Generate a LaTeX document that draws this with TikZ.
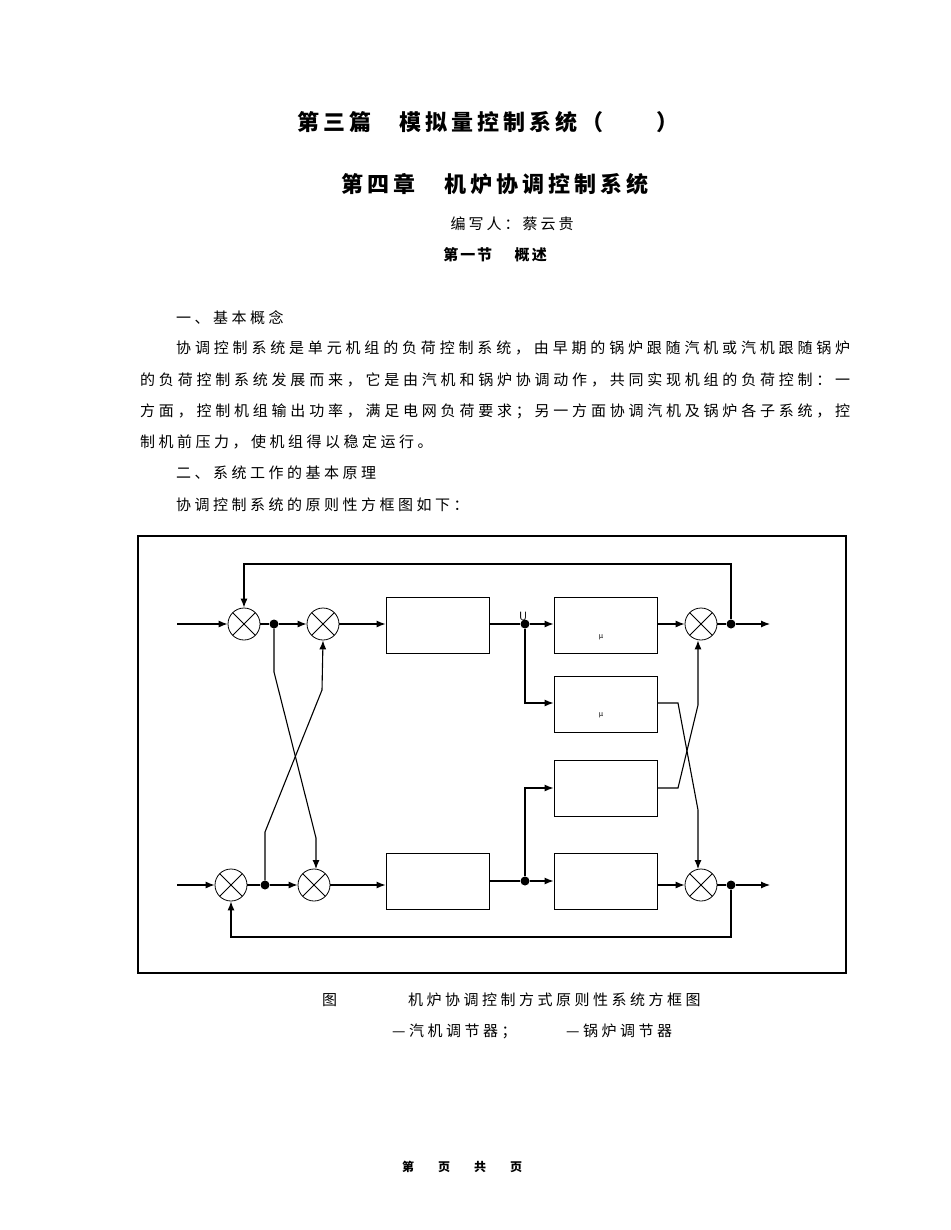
\documentclass[tikz,border=0pt]{standalone}
\usepackage{fontspec}
\setmainfont{Noto Sans CJK SC}
\usetikzlibrary{arrows.meta}
\makeatletter
\def\my@gl{}
\def\my@loop#1{\ifx#1\relax\else#1\my@gl\expandafter\my@loop\fi}
\newcommand{\ls}[2]{\def\my@gl{\hskip #1\relax}\my@loop#2\relax\unskip}
\newcommand{\jl}[2]{\hbox to #1{\def\my@gl{\hskip 0pt plus 1fil\relax}\my@loop#2\relax\unskip}}
\makeatother
\begin{document}
\begin{tikzpicture}[x=1pt,y=-1pt,
  sum/.style={draw,circle,minimum size=32pt,inner sep=0pt,line width=0.8pt,path picture={\draw (path picture bounding box.north west)--(path picture bounding box.south east) (path picture bounding box.north east)--(path picture bounding box.south west);}},
  blk/.style={draw,line width=0.9pt,minimum width=103pt,minimum height=56pt,inner sep=0pt},
  dotn/.style={circle,fill,inner sep=0pt,minimum size=9pt},
  ar/.style={line width=1.1pt,-{Latex[length=9pt,width=7pt]}},
  ln/.style={line width=1.1pt},
  body/.style={anchor=west,font=\fontsize{15pt}{18pt}\selectfont,inner sep=0pt}]
\useasboundingbox (0,0) rectangle (950,1230);
% titles
\node[font=\fontsize{22pt}{26pt}\selectfont\bfseries] (t1) at (488,122) {\ls{4pt}{第三篇}\hspace{1.3em}\ls{4pt}{模拟量控制系统（}\hspace{2.4em}）};
\node[font=\fontsize{22pt}{26pt}\selectfont\bfseries] (t2) at (495,184) {\ls{4pt}{第四章}\hspace{1.3em}\ls{4pt}{机炉协调控制系统}};
\node[font=\fontsize{15pt}{18pt}\selectfont] (t3) at (512,224) {\ls{3pt}{编写人：蔡云贵}};
\node[font=\fontsize{15pt}{18pt}\selectfont\bfseries] (t4) at (495,255) {\ls{2pt}{第一节}\hspace{1.5em}\ls{2pt}{概述}};
\node[body] (p0) at (176,318) {\ls{3.5pt}{一、基本概念}};
\node[body] (p1) at (176,348) {\jl{674pt}{协调控制系统是单元机组的负荷控制系统，由早期的锅炉跟随汽机或汽机跟随锅炉}};
\node[body] (p2) at (140,380) {\jl{710pt}{的负荷控制系统发展而来，它是由汽机和锅炉协调动作，共同实现机组的负荷控制：一}};
\node[body] (p3) at (140,411) {\jl{710pt}{方面，控制机组输出功率，满足电网负荷要求；另一方面协调汽机及锅炉各子系统，控}};
\node[body] (p4) at (140,442) {\ls{3.5pt}{制机前压力，使机组得以稳定运行。}};
\node[body] (p5) at (176,473) {\ls{3.5pt}{二、系统工作的基本原理}};
\node[body] (p6) at (176,505) {\ls{3.5pt}{协调控制系统的原则性方框图如下：}};
% frame
\draw[line width=1.1pt] (138,536) rectangle (846,973);
% top row
\coordinate (in1) at (177,624);
\node[sum] (s1) at (244,624) {};
\node[dotn] (d1) at (274,624) {};
\node[sum] (s2) at (323,624) {};
\node[blk] (b1) at (437.5,625) {};
\node[dotn] (d2) at (525,624) {};
\node[font=\fontsize{12pt}{12pt}\selectfont\sffamily,inner sep=0pt] (u) at (523,616) {U};
\node[blk] (b2) at (605.5,625) {};
\node[font=\fontsize{7pt}{7pt}\selectfont] (mu1) at (601,637) {μ};
\node[sum] (s3) at (701,624) {};
\node[dotn] (d3) at (731,624) {};
\coordinate (out1) at (770,624);
\node[blk] (b3) at (605.5,704) {};
\node[font=\fontsize{7pt}{7pt}\selectfont] (mu2) at (601,715) {μ};
\node[blk] (b4) at (605.5,788) {};
\node[blk] (b5) at (605.5,881) {};
% bottom row
\coordinate (in2) at (177,885);
\node[sum] (s4) at (231,885) {};
\node[dotn] (d4) at (265,885) {};
\node[sum] (s5) at (314,885) {};
\node[blk] (b6) at (437.5,881) {};
\node[dotn] (d5) at (525,881) {};
\node[sum] (s6) at (701,885) {};
\node[dotn] (d6) at (731,885) {};
\coordinate (out2) at (770,885);
% connections top
\draw[ar] (in1) -- (s1);
\draw[ln] (s1) -- (d1);
\draw[ar] (d1) -- (s2);
\draw[ar] (s2) -- (b1.west|-s2);
\draw[ln] (b1.east|-d2) -- (d2);
\draw[ar] (d2) -- (b2.west|-d2);
\draw[ar] (b2.east|-s3) -- (s3);
\draw[ln] (s3) -- (d3);
\draw[ar] (d3) -- (out1);
\draw[ar] (d3) -- (731,564) -- (244,564) -- (s1.north);
\draw[ar] (d2) -- (525,703) -- (b3.west|-0,703);
% bottom
\draw[ar] (in2) -- (s4);
\draw[ln] (s4) -- (d4);
\draw[ar] (d4) -- (s5);
\draw[ar] (s5) -- (b6.west|-s5);
\draw[ln] (b6.east|-d5) -- (d5);
\draw[ar] (d5) -- (b5.west|-d5);
\draw[ar] (b5.east|-s6) -- (s6);
\draw[ln] (s6) -- (d6);
\draw[ar] (d6) -- (out2);
\draw[ar] (d6) -- (731,937) -- (231,937) -- (s4.south);
\draw[ar] (d5) -- (525,788) -- (b4.west);
% crosses
\draw[ar] (d1) -- (274,672) -- (316,838) -- (316,869);
\draw[ar] (d4) -- (265,832) -- (322,690) -- (s2.south);
\draw[ar] (b3.east|-0,703) -- (678,703) -- (698,810) -- (698,869);
\draw[ar] (b4.east) -- (678,788) -- (698,705) -- (s3.south-|698,0);
% caption
\node[body] (c1) at (322,1000) {图};
\node[body] (c2) at (408,1000) {\ls{3.5pt}{机炉协调控制方式原则性系统方框图}};
\node[body] (c3) at (392,1031) {\ls{3.5pt}{—汽机调节器；}};
\node[body] (c4) at (566,1031) {\ls{3.5pt}{—锅炉调节器}};
\node[font=\fontsize{12pt}{14pt}\selectfont\bfseries] (f) at (462,1167) {第\hspace{2em}页\hspace{2em}共\hspace{2em}页};
\end{tikzpicture}
\end{document}
